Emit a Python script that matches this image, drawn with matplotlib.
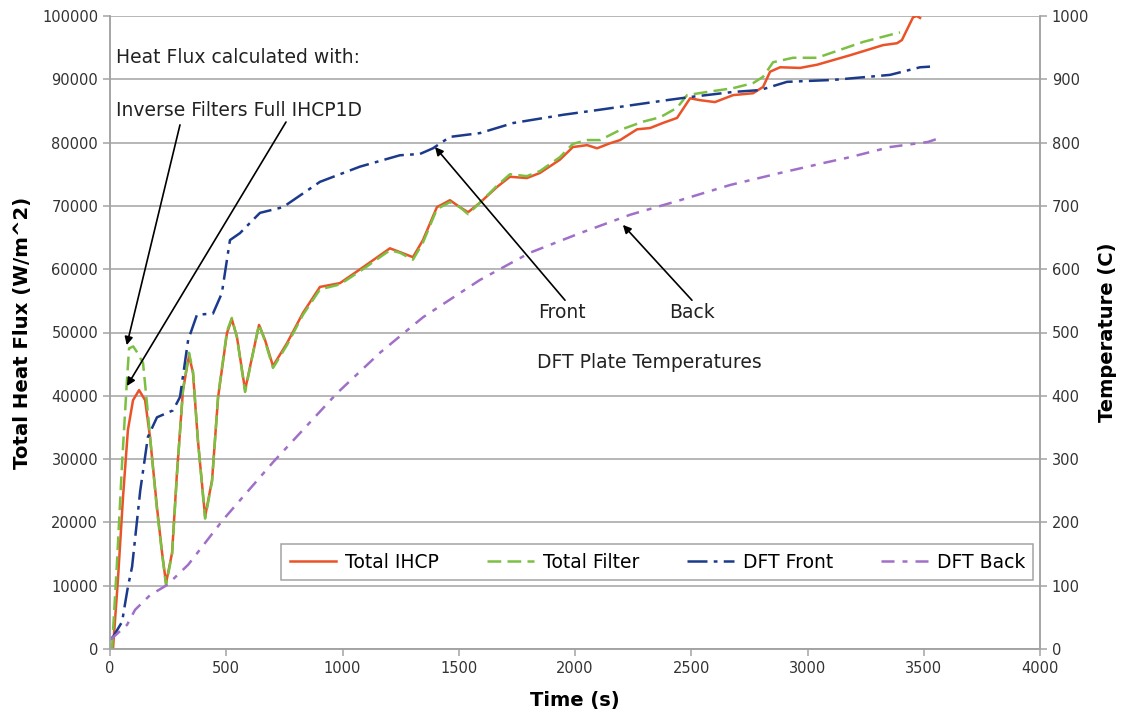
import matplotlib
matplotlib.use('Agg')
import matplotlib.pyplot as plt

# Total heat flux (W/m^2) from full IHCP1D
ihcp_t = [0, 13, 34, 56, 77, 99, 125, 151, 172, 202, 224, 241, 267, 288, 314, 340, 357, 378,
          409, 439, 465, 503, 524, 546, 581, 611, 641, 667, 701, 761, 830, 903, 989, 1088,
          1204, 1247, 1303, 1346, 1406, 1462, 1505, 1540, 1591, 1665, 1720, 1793, 1849, 1935,
          1991, 2052, 2095, 2151, 2194, 2267, 2323, 2378, 2439, 2495, 2538, 2602, 2680, 2766,
          2809, 2839, 2882, 2968, 3041, 3183, 3325, 3385, 3406, 3430, 3454, 3470, 3484]
ihcp_q = [0, 100, 10900, 24000, 34600, 39300, 40900, 39300, 33500, 22400, 15200, 10400, 15200,
          27800, 40900, 46400, 43600, 33000, 20900, 26700, 39800, 49900, 52100, 49300, 40900,
          46100, 51200, 48800, 44700, 48300, 53100, 57200, 57800, 60300, 63300, 62700, 61900,
          64600, 69800, 70900, 69800, 69000, 70500, 73000, 74600, 74400, 75200, 77300, 79300,
          79600, 79100, 79900, 80400, 82100, 82300, 83100, 83900, 87000, 86700, 86400, 87500,
          87800, 88800, 91200, 91900, 91800, 92300, 93800, 95400, 95700, 96200, 98000, 99800,
          100000, 99700]

# Total heat flux (W/m^2) from inverse filters
filt_t = [0, 9, 30, 52, 73, 82, 100, 116, 142, 163, 180, 202, 224, 241, 267, 288, 314, 340,
          357, 378, 409, 439, 465, 503, 524, 546, 581, 611, 641, 667, 701, 761, 830, 903, 989,
          1088, 1204, 1247, 1303, 1346, 1406, 1462, 1505, 1540, 1591, 1665, 1720, 1793, 1849,
          1935, 1991, 2052, 2108, 2194, 2292, 2366, 2439, 2482, 2568, 2680, 2766, 2809, 2852,
          2938, 3041, 3239, 3385, 3398]
filt_q = [0, 300, 13600, 29400, 42500, 47500, 47800, 46900, 45200, 37300, 30500, 22000, 15000,
          10100, 15000, 27500, 41000, 46800, 43800, 33000, 20600, 26500, 40000, 50200, 52300,
          49200, 40600, 46000, 51300, 48600, 44400, 48000, 52800, 56800, 57600, 60000, 63000,
          62600, 61500, 64200, 69500, 70600, 69800, 68700, 70500, 73200, 75000, 74700, 75500,
          77700, 79800, 80400, 80400, 82000, 83300, 84000, 85500, 87500, 88000, 88600, 89400,
          90400, 92700, 93400, 93400, 95900, 97300, 97400]

# DFT plate temperatures (C)
front_t = [0, 13, 52, 65, 77, 95, 130, 163, 202, 271, 301, 336, 374, 443, 481, 516, 559, 645,
           744, 903, 1075, 1247, 1333, 1389, 1462, 1591, 1735, 1950, 2108, 2394, 2495, 2680,
           2796, 2912, 3110, 3355, 3484, 3527]
front_T = [15, 19, 43, 72, 98, 130, 250, 335, 366, 377, 398, 488, 528, 530, 562, 646, 657, 689,
           698, 738, 762, 780, 782, 791, 809, 815, 831, 844, 852, 867, 872, 880, 883, 896, 899,
           907, 919, 920]

back_t = [0, 9, 73, 108, 172, 245, 336, 486, 701, 976, 1161, 1346, 1591, 1806, 2022, 2237,
          2452, 2667, 2882, 3084, 3183, 3355, 3518, 3583]
back_T = [15, 17, 38, 62, 85, 101, 133, 204, 295, 404, 468, 524, 583, 626, 657, 686, 709, 733,
          752, 769, 777, 793, 801, 809]

plt.rcParams['font.family'] = 'DejaVu Sans'

fig = plt.figure(figsize=(11.24, 7.21), dpi=100)
ax = fig.add_axes([110 / 1124, 1 - 649 / 721, 930 / 1124, 633 / 721])
ax2 = ax.twinx()

grid_c = '#a3a3a3'
lw = 1.8

ax.plot(ihcp_t, ihcp_q, color='#ea5228', lw=lw, label='Total IHCP')
ax.plot(filt_t, filt_q, color='#7cc043', lw=lw, dashes=(5.5, 2.5), label='Total Filter')
ax2.plot(front_t, front_T, color='#1b3a8c', lw=lw, dashes=(8, 2.5, 1.5, 2.5), label='DFT Front')
ax2.plot(back_t, back_T, color='#a070c8', lw=lw, dashes=(5.2, 3.2, 2, 3.2), label='DFT Back')

ax.set_xlim(0, 4000)
ax.set_ylim(0, 100000)
ax2.set_ylim(0, 1000)
ax.set_xticks(range(0, 4001, 500))
ax.set_yticks(range(0, 100001, 10000))
ax2.set_yticks(range(0, 1001, 100))

ax.grid(axis='y', color=grid_c, lw=1.1)
ax.set_axisbelow(True)
for a in (ax, ax2):
    for s in a.spines.values():
        s.set_color(grid_c)
        s.set_linewidth(1.1)
    a.spines['top'].set_visible(False)
    a.tick_params(colors=grid_c, labelcolor='#333333', labelsize=10.5, length=5, width=1.1)

ax.set_ylabel('Total Heat Flux (W/m^2)', fontsize=14.2, fontweight='bold')
ax2.set_ylabel('Temperature (C)', fontsize=14, fontweight='bold')
ax.set_xlabel('Time (s)', fontsize=14, fontweight='bold')
ax.yaxis.set_label_coords(-0.084, 0.5)
ax2.yaxis.set_label_coords(1.062, 0.5)
ax.xaxis.set_label_coords(0.5, -0.066)

# annotations (heat flux axis coordinates)
txt = dict(fontsize=13.5, color='#222222')
ax.text(26, 93400, 'Heat Flux calculated with:', va='center', **txt)
ax.text(26, 85150, 'Inverse Filters Full IHCP1D', va='center', **txt)
ax.text(1944, 53200, 'Front', ha='center', va='center', **txt)
ax.text(2503, 53200, 'Back', ha='center', va='center', **txt)
ax.text(1837, 45300, 'DFT Plate Temperatures', va='center', **txt)

arrow = dict(arrowstyle='-|>', color='black', lw=1.2, mutation_scale=12, shrinkA=0, shrinkB=0)
ax.annotate('', xy=(72, 48000), xytext=(301, 82800), arrowprops=arrow)
ax.annotate('', xy=(73, 41550), xytext=(757, 83250), arrowprops=arrow)
ax.annotate('', xy=(1398, 79300), xytext=(1957, 55100), arrowprops=arrow)
ax.annotate('', xy=(2206, 67000), xytext=(2503, 55100), arrowprops=arrow)

h1, l1 = ax.get_legend_handles_labels()
h2, l2 = ax2.get_legend_handles_labels()
leg = ax2.legend(h1 + h2, l1 + l2, loc='lower left', ncol=4, mode='expand',
                 bbox_to_anchor=(0.184, 0.109, 0.809, 0.063), fontsize=13.5,
                 handlelength=2.5, handletextpad=0.45, fancybox=False, framealpha=1,
                 borderaxespad=0, borderpad=0.45)
leg.get_frame().set_edgecolor(grid_c)
leg.get_frame().set_linewidth(1.1)

fig.savefig('out.png', dpi=100)
